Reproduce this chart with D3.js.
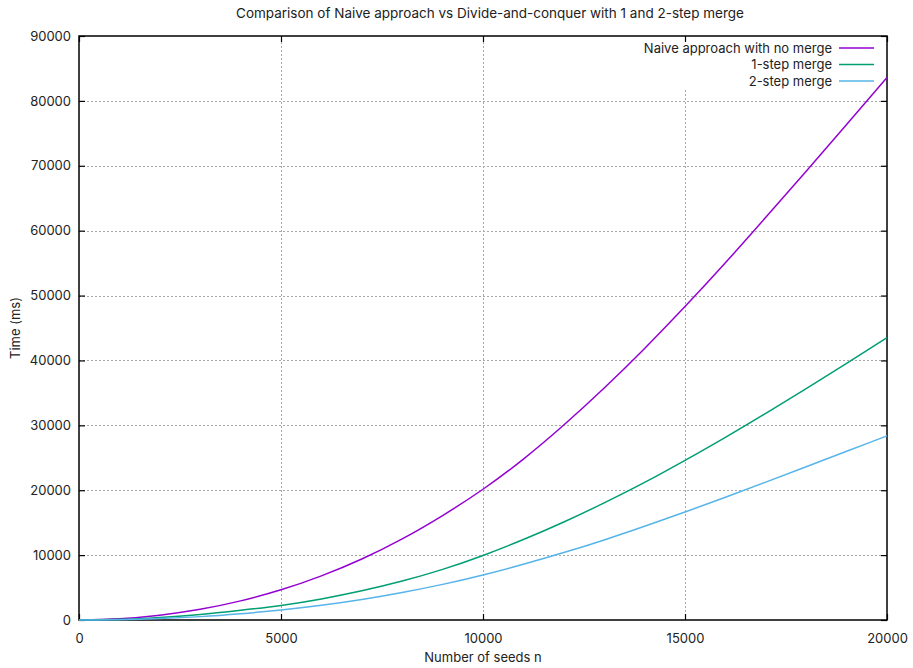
<!DOCTYPE html>
<html>
<head>
<meta charset="utf-8">
<script src="https://cdn.jsdelivr.net/npm/d3@7"></script>
<style>
  body { margin: 0; background: #fff; }
  svg text { font-family: Inter, "Noto Sans", sans-serif; fill: #222; }
</style>
</head>
<body>
<div id="chart"></div>
<script>
// values
const seeds = [0, 1000, 2000, 3000, 4000, 5000, 6000, 7000, 8000, 9000, 10000,
  11000, 12000, 13000, 14000, 15000, 16000, 17000, 18000, 19000, 20000];
const naive = [0, 200, 750, 1650, 2950, 4650, 6800, 9400, 12500, 16100, 20150,
  24800, 30050, 35750, 41850, 48300, 55050, 62050, 69150, 76350, 83600];
const oneStep = [0, 100, 400, 850, 1500, 2250, 3250, 4500, 6000, 7800, 9950,
  12400, 15100, 18050, 21200, 24600, 28150, 31850, 35650, 39550, 43500];
const twoStep = [0, 50, 220, 520, 970, 1540, 2260, 3160, 4240, 5490, 6940,
  8590, 10390, 12340, 14440, 16640, 18920, 21250, 23620, 26000, 28380];
const seriesNames = ["Naive approach with no merge", "1-step merge", "2-step merge"];
const seriesColors = ["#9400d3", "#009e73", "#56b4e9"];
const xTicks = [0, 5000, 10000, 15000, 20000];
const yTicks = [0, 10000, 20000, 30000, 40000, 50000, 60000, 70000, 80000, 90000];

const width = 913, height = 668;
const margin = {left: 79, right: 26, top: 36, bottom: 48};

const svg = d3.select("#chart").append("svg")
  .attr("width", width)
  .attr("height", height);

const x = d3.scaleLinear().domain([0, 20000]).range([margin.left, width - margin.right]);
const y = d3.scaleLinear().domain([0, 90000]).range([height - margin.bottom, margin.top]);

// grid
const grid = svg.append("g")
  .attr("stroke", "#a8a8a8")
  .attr("stroke-width", 1)
  .attr("stroke-dasharray", "2,2");
grid.selectAll(".gx").data(xTicks.slice(1, -1)).join("line")
  .attr("x1", d => Math.round(x(d)) + 0.5).attr("x2", d => Math.round(x(d)) + 0.5)
  .attr("y1", y(0)).attr("y2", y(90000));
grid.selectAll(".gy").data(yTicks.slice(1, -1)).join("line")
  .attr("x1", x(0)).attr("x2", x(20000))
  .attr("y1", d => Math.round(y(d)) + 0.5).attr("y2", d => Math.round(y(d)) + 0.5);

// key background hides the grid behind it
svg.append("rect")
  .attr("x", 640).attr("y", margin.top + 1)
  .attr("width", x(20000) - 641).attr("height", 53)
  .attr("fill", "#fff");

// axes (ticks drawn inside, mirrored like gnuplot)
const tickLen = 6;
svg.append("g")
  .attr("transform", `translate(0,${y(0)})`)
  .call(d3.axisBottom(x).tickValues(xTicks).tickSize(-tickLen).tickPadding(14).tickFormat(d3.format("d")))
  .call(g => g.select(".domain").remove())
  .call(g => g.selectAll("text").attr("font-size", 13));
svg.append("g")
  .attr("transform", `translate(0,${y(90000)})`)
  .call(d3.axisTop(x).tickValues(xTicks).tickSize(-tickLen).tickFormat(""))
  .call(g => g.select(".domain").remove());
svg.append("g")
  .attr("transform", `translate(${x(0)},0)`)
  .call(d3.axisLeft(y).tickValues(yTicks).tickSize(-tickLen).tickPadding(8).tickFormat(d3.format("d")))
  .call(g => g.select(".domain").remove())
  .call(g => g.selectAll("text").attr("font-size", 13));
svg.append("g")
  .attr("transform", `translate(${x(20000)},0)`)
  .call(d3.axisRight(y).tickValues(yTicks).tickSize(-tickLen).tickFormat(""))
  .call(g => g.select(".domain").remove());
svg.selectAll(".tick line").attr("stroke", "#000").attr("stroke-width", 1.2);

svg.append("rect")
  .attr("x", x(0)).attr("y", y(90000))
  .attr("width", x(20000) - x(0)).attr("height", y(0) - y(90000))
  .attr("fill", "none").attr("stroke", "#000").attr("stroke-width", 1.5);

// curves
const allSeries = [naive, oneStep, twoStep];
const line = d3.line()
  .x((d, i) => x(seeds[i]))
  .y(d => y(d))
  .curve(d3.curveNatural);
svg.append("g").selectAll("path").data(allSeries).join("path")
  .attr("d", line)
  .attr("fill", "none")
  .attr("stroke", (d, i) => seriesColors[i])
  .attr("stroke-width", 1.5);

// key
const key = svg.append("g").selectAll("g").data(seriesNames).join("g")
  .attr("transform", (d, i) => `translate(0,${48 + i * 16.5})`);
key.append("text")
  .attr("x", 832).attr("dy", "0.35em")
  .attr("text-anchor", "end").attr("font-size", 13)
  .text(d => d);
key.append("line")
  .attr("x1", 839).attr("x2", 874)
  .attr("stroke", (d, i) => seriesColors[i]).attr("stroke-width", 1.5);

// labels
svg.append("text")
  .attr("x", (x(0) + x(20000)) / 2 + 7).attr("y", 18)
  .attr("text-anchor", "middle").attr("font-size", 13.5)
  .text("Comparison of Naive approach vs Divide-and-conquer with 1 and 2-step merge");
svg.append("text")
  .attr("x", (x(0) + x(20000)) / 2).attr("y", 662)
  .attr("text-anchor", "middle").attr("font-size", 13)
  .text("Number of seeds n");
svg.append("text")
  .attr("transform", `translate(20,${(y(0) + y(90000)) / 2}) rotate(-90)`)
  .attr("text-anchor", "middle").attr("font-size", 13)
  .text("Time (ms)");
</script>
</body>
</html>
